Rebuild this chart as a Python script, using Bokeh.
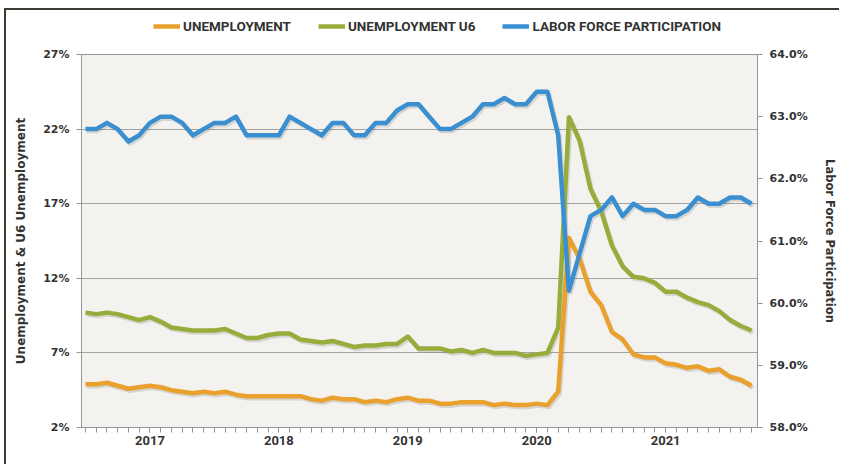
import numpy as np
import pandas as pd
from bokeh.plotting import figure
from bokeh.layouts import column
from bokeh.models import (Range1d, LinearAxis, FixedTicker, PrintfTickFormatter,
                          Legend, LegendItem, ColumnDataSource)
from bokeh.embed import file_html
from bokeh.resources import INLINE

# ---------------- data ----------------
months = pd.date_range("2016-07-01", "2021-09-01", freq="MS").strftime("%Y-%m").tolist()

unemployment = [4.9, 4.9, 5.0, 4.8, 4.6, 4.7, 4.8, 4.7, 4.5, 4.4,
                4.3, 4.4, 4.3, 4.4, 4.2, 4.1, 4.1, 4.1, 4.1, 4.1,
                4.1, 3.9, 3.8, 4.0, 3.9, 3.9, 3.7, 3.8, 3.7, 3.9,
                4.0, 3.8, 3.8, 3.6, 3.6, 3.7, 3.7, 3.7, 3.5, 3.6,
                3.5, 3.5, 3.6, 3.5, 4.4, 14.7, 13.3, 11.1, 10.2, 8.4,
                7.9, 6.9, 6.7, 6.7, 6.3, 6.2, 6.0, 6.1, 5.8, 5.9,
                5.4, 5.2, 4.8]

unemployment_u6 = [9.7, 9.6, 9.7, 9.6, 9.4, 9.2, 9.4, 9.1, 8.7, 8.6,
                   8.5, 8.5, 8.5, 8.6, 8.3, 8.0, 8.0, 8.2, 8.3, 8.3,
                   7.9, 7.8, 7.7, 7.8, 7.6, 7.4, 7.5, 7.5, 7.6, 7.6,
                   8.1, 7.3, 7.3, 7.3, 7.1, 7.2, 7.0, 7.2, 7.0, 7.0,
                   7.0, 6.8, 6.9, 7.0, 8.7, 22.8, 21.2, 18.0, 16.5, 14.2,
                   12.8, 12.1, 12.0, 11.7, 11.1, 11.1, 10.7, 10.4, 10.2, 9.8,
                   9.2, 8.8, 8.5]

labor_force = [62.8, 62.8, 62.9, 62.8, 62.6, 62.7, 62.9, 63.0, 63.0, 62.9,
               62.7, 62.8, 62.9, 62.9, 63.0, 62.7, 62.7, 62.7, 62.7, 63.0,
               62.9, 62.8, 62.7, 62.9, 62.9, 62.7, 62.7, 62.9, 62.9, 63.1,
               63.2, 63.2, 63.0, 62.8, 62.8, 62.9, 63.0, 63.2, 63.2, 63.3,
               63.2, 63.2, 63.4, 63.4, 62.7, 60.2, 60.8, 61.4, 61.5, 61.7,
               61.4, 61.6, 61.5, 61.5, 61.4, 61.4, 61.5, 61.7, 61.6, 61.6,
               61.7, 61.7, 61.6]

series_names = ["UNEMPLOYMENT", "UNEMPLOYMENT U6", "LABOR FORCE PARTICIPATION"]
year_labels = ["2017", "2018", "2019", "2020", "2021"]
left_ticks = [2, 7, 12, 17, 22, 27]
right_ticks = [58, 59, 60, 61, 62, 63, 64]

# ---------------- geometry / style ----------------
FRAME_W, FRAME_H = 682, 373
BL, BR, BT, BB = 75, 76, 12, 37
LEG_H = 32
x_start, x_end = -0.37, 62.55
yl_start, yl_end = 2, 27
yr_start, yr_end = 58, 64

ORANGE = "#E9A02C"
GREEN = "#97AD3B"
BLUE = "#3A8FD1"
COLORS = [ORANGE, GREEN, BLUE]
TXT = "#333333"
AXC = "#959595"
LW = 4.5

x = np.arange(len(months))
year_pos = [months.index(y + "-01") for y in year_labels]

src = ColumnDataSource(dict(x=x, u=unemployment, u6=unemployment_u6, lf=labor_force))

# shadow offsets (in data units) derived from pixel scale
dx = 1.5 * (x_end - x_start) / FRAME_W
dyl = 2.0 * (yl_end - yl_start) / FRAME_H
dyr = 2.0 * (yr_end - yr_start) / FRAME_H
shadow = ColumnDataSource(dict(x=x + dx,
                               u=np.array(unemployment) - dyl,
                               u6=np.array(unemployment_u6) - dyl,
                               lf=np.array(labor_force) - dyr))

W = BL + FRAME_W + BR

# ---------------- legend strip (its frame is aligned with the chart's frame) ----------------
pl = figure(width=W, height=LEG_H, output_backend="svg", toolbar_location=None,
            x_axis_type=None, y_axis_type=None, min_border=0,
            x_range=Range1d(0, 1), y_range=Range1d(0, 1),
            background_fill_color="white", border_fill_color="white",
            outline_line_color=None)
pl.grid.visible = False
leg_items = []
for name, c, col in zip(series_names, COLORS, ("u", "u6", "lf")):
    # same series, outside this strip's (0..1) ranges, so only the legend swatch shows
    r = pl.line("x", col, source=src, line_color=c, line_width=LW)
    leg_items.append(LegendItem(label=name, renderers=[r]))
legend = Legend(items=leg_items, location=(72, 8), orientation="horizontal",
                glyph_width=27, glyph_height=14, label_standoff=3, spacing=27,
                padding=0, margin=0, border_line_color=None, background_fill_alpha=0,
                label_text_font="Roboto", label_text_font_style="bold",
                label_text_font_size="13.5px", label_text_color=TXT)
pl.add_layout(legend)

# ---------------- main chart ----------------
p = figure(width=W, height=BT + FRAME_H + BB,
           output_backend="svg", toolbar_location=None,
           x_range=Range1d(x_start, x_end), y_range=Range1d(yl_start, yl_end),
           min_border_left=BL, min_border_right=BR, min_border_top=BT, min_border_bottom=BB,
           background_fill_color="#F3F2EE", border_fill_color="white",
           outline_line_color=AXC, outline_line_width=1)
p.extra_y_ranges = {"lf": Range1d(yr_start, yr_end)}

p.xgrid.visible = False
p.ygrid.ticker = FixedTicker(ticks=left_ticks)
p.ygrid.grid_line_color = "#A3A3A3"
p.ygrid.grid_line_width = 1

xa = p.xaxis[0]
xa.ticker = FixedTicker(ticks=year_pos, minor_ticks=list(x))
xa.major_label_overrides = {pos: lab for pos, lab in zip(year_pos, year_labels)}
xa.major_tick_in = 0
xa.major_tick_out = 5
xa.minor_tick_in = 0
xa.minor_tick_out = 5
xa.axis_line_color = AXC
xa.major_tick_line_color = AXC
xa.minor_tick_line_color = AXC
xa.major_label_text_font = "Roboto"
xa.major_label_text_font_style = "bold"
xa.major_label_text_font_size = "13px"
xa.major_label_text_color = TXT
xa.major_label_standoff = 3

ya = p.yaxis[0]
ya.ticker = FixedTicker(ticks=left_ticks)
ya.formatter = PrintfTickFormatter(format="%d%%")
ya.minor_tick_line_color = None
ya.major_tick_in = 0
ya.major_tick_out = 5
ya.axis_line_color = AXC
ya.major_tick_line_color = AXC
ya.major_label_text_font = "DejaVu Sans"
ya.major_label_text_font_style = "bold"
ya.major_label_text_font_size = "11px"
ya.major_label_text_color = TXT
ya.major_label_standoff = 7
ya.axis_label = "Unemployment & U6 Unemployment"
ya.axis_label_text_font = "DejaVu Sans"
ya.axis_label_text_font_style = "bold"
ya.axis_label_text_font_size = "12px"
ya.axis_label_text_color = TXT
ya.axis_label_standoff = 12

ra = LinearAxis(y_range_name="lf", ticker=FixedTicker(ticks=right_ticks),
                formatter=PrintfTickFormatter(format="%.1f%%"))
ra.minor_tick_line_color = None
ra.major_tick_in = 0
ra.major_tick_out = 5
ra.axis_line_color = AXC
ra.major_tick_line_color = AXC
ra.major_label_text_font = "DejaVu Sans"
ra.major_label_text_font_style = "bold"
ra.major_label_text_font_size = "11px"
ra.major_label_text_color = TXT
ra.major_label_standoff = 7
ra.axis_label = "Labor Force Participation"
ra.axis_label_text_font = "DejaVu Sans"
ra.axis_label_text_font_style = "bold"
ra.axis_label_text_font_size = "11.5px"
ra.axis_label_text_color = TXT
ra.axis_label_standoff = 12
p.add_layout(ra, "right")

for col, rng in (("u", "default"), ("u6", "default"), ("lf", "lf")):
    p.line("x", col, source=shadow, line_color="#6b6b6b", line_alpha=0.22,
           line_width=LW, line_join="round", y_range_name=rng)

p.line("x", "u", source=src, line_color=ORANGE, line_width=LW, line_join="round")
p.line("x", "u6", source=src, line_color=GREEN, line_width=LW, line_join="round")
p.line("x", "lf", source=src, line_color=BLUE, line_width=LW, line_join="round",
       y_range_name="lf")

page = column(pl, p, spacing=0)
page.styles = {"border-top": "2px solid #3c3a32", "border-left": "2px solid #3c3a32",
               "margin-top": "8px", "margin-left": "4px"}

open("out.html", "w").write(file_html(page, INLINE))
